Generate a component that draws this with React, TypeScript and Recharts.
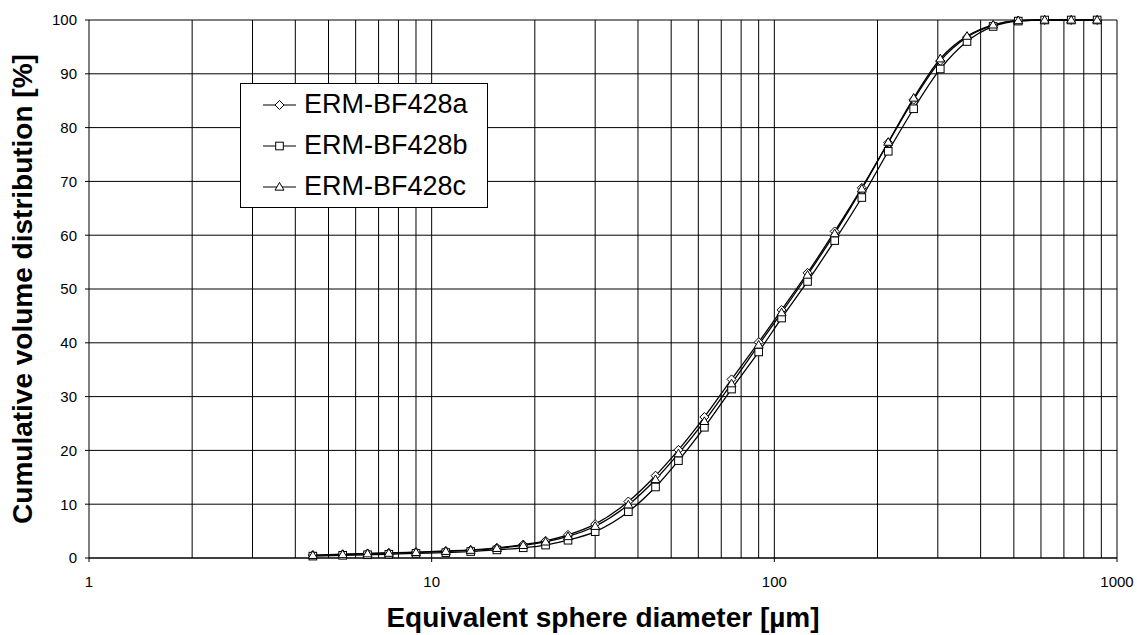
import React from "react";
import { LineChart, Line, XAxis, YAxis, CartesianGrid, ReferenceLine, Legend, Label } from "recharts";

const sizes = [4.5, 5.5, 6.5, 7.5, 9, 11, 13, 15.5, 18.5, 21.5, 25, 30, 37.5, 45, 52.5, 62.5, 75, 90, 105, 125, 150, 180, 215, 255, 305, 365, 435, 515, 615, 735, 875];
const seriesA = [0.55, 0.7, 0.85, 0.95, 1.1, 1.3, 1.5, 1.9, 2.5, 3.2, 4.3, 6.3, 10.5, 15.3, 20.1, 26.2, 33.2, 40.1, 46.1, 53.0, 60.7, 68.8, 77.2, 85.2, 92.4, 96.8, 99.0, 99.9, 100, 100, 100];
const seriesB = [0.35, 0.5, 0.6, 0.7, 0.85, 1.0, 1.2, 1.5, 1.9, 2.4, 3.3, 4.9, 8.6, 13.2, 18.1, 24.3, 31.4, 38.3, 44.6, 51.4, 59.0, 67.0, 75.6, 83.5, 90.9, 96.0, 98.8, 99.8, 100, 100, 100];
const seriesC = [0.5, 0.65, 0.8, 0.9, 1.05, 1.25, 1.45, 1.8, 2.35, 3.0, 4.0, 5.9, 9.9, 14.6, 19.4, 25.4, 32.4, 39.6, 45.6, 52.6, 60.3, 68.6, 77.3, 85.5, 92.8, 97.0, 99.1, 99.9, 100, 100, 100];
const seriesNames = ["ERM-BF428a", "ERM-BF428b", "ERM-BF428c"];
const xTicks = [1, 10, 100, 1000];
const yTicks = [0, 10, 20, 30, 40, 50, 60, 70, 80, 90, 100];
const xGrid = [2, 3, 4, 5, 6, 7, 8, 9, 10, 20, 30, 40, 50, 60, 70, 80, 90, 100, 200, 300, 400, 500, 600, 700, 800, 900, 1000];

const data = sizes.map((s, i) => ({ size: s, a: seriesA[i], b: seriesB[i], c: seriesC[i] }));

const FONT = "Arial, 'Liberation Sans', Helvetica, sans-serif";

const Marker = ({ kind, cx, cy }: { kind: string; cx: number; cy: number }) => {
  if (cx == null || cy == null) return null;
  if (kind === "diamond") {
    const r = 4.5;
    return <polygon points={`${cx},${cy - r} ${cx + r},${cy} ${cx},${cy + r} ${cx - r},${cy}`} fill="#fff" stroke="#000" strokeWidth={1} />;
  }
  if (kind === "square") {
    const r = 3.8;
    return <rect x={cx - r} y={cy - r} width={2 * r} height={2 * r} fill="#fff" stroke="#000" strokeWidth={1} />;
  }
  const r = 4.5;
  return <polygon points={`${cx},${cy - r} ${cx + r},${cy + r * 0.7} ${cx - r},${cy + r * 0.7}`} fill="#fff" stroke="#000" strokeWidth={1} />;
};

const makeDot = (kind: string) => (props: any) => (
  <Marker key={`${kind}-${props.index}`} kind={kind} cx={props.cx} cy={props.cy} />
);

const kinds = ["diamond", "square", "triangle"];

const renderLegend = () => (
  <div
    style={{
      border: "1px solid #000",
      background: "#fff",
      width: 248,
      padding: 0,
      fontFamily: FONT,
      fontSize: 27,
      boxSizing: "border-box",
    }}
  >
    {seriesNames.map((n, i) => (
      <div key={n} style={{ display: "flex", alignItems: "center", height: 41, paddingLeft: 21 }}>
        <svg width={36} height={14} style={{ marginRight: 6 }}>
          <line x1={1} y1={7} x2={34} y2={7} stroke="#000" strokeWidth={1.2} />
          <Marker kind={kinds[i]} cx={17.5} cy={7} />
        </svg>
        <span style={{ lineHeight: "41px" }}>{n}</span>
      </div>
    ))}
  </div>
);

export default function App() {
  return (
    <div style={{ position: "absolute", left: 0, top: 0, width: 1137, height: 635, background: "#fff" }}>
      <LineChart width={1137} height={635} data={data} margin={{ top: 20, right: 20, bottom: 0, left: 29 }}>
        <CartesianGrid vertical={false} stroke="#000" strokeWidth={1} />
        {xGrid.map((v) => (
          <ReferenceLine key={v} x={v} stroke="#000" strokeWidth={1} />
        ))}
        <XAxis
          dataKey="size"
          type="number"
          scale="log"
          domain={[1, 1000]}
          ticks={xTicks}
          allowDataOverflow
          height={77}
          tickSize={4}
          tickMargin={14}
          stroke="#000"
          tick={{ fill: "#000", fontSize: 15, fontFamily: FONT }}
          tickLine={{ stroke: "#000" }}
        >
          <Label
            value="Equivalent sphere diameter [µm]"
            position="insideBottom"
            offset={8}
            style={{ fontFamily: FONT, fontSize: 28, fontWeight: "bold", fill: "#000" }}
          />
        </XAxis>
        <YAxis
          type="number"
          domain={[0, 100]}
          ticks={yTicks}
          width={60}
          tickSize={4}
          tickMargin={8}
          stroke="#000"
          tick={{ fill: "#000", fontSize: 15, fontFamily: FONT }}
          tickLine={{ stroke: "#000" }}
        >
          <Label
            value="Cumulative volume distribution [%]"
            angle={-90}
            position="insideLeft"
            offset={-7}
            style={{ fontFamily: FONT, fontSize: 28, fontWeight: "bold", fill: "#000", textAnchor: "middle" }}
          />
        </YAxis>
        <Legend
          layout="vertical"
          verticalAlign="middle"
          align="center"
          content={renderLegend}
          wrapperStyle={{ left: 240, top: 83, width: 248 }}
        />
        <Line type="monotone" dataKey="a" name={seriesNames[0]} stroke="#000" strokeWidth={1.3} dot={makeDot("diamond")} activeDot={false} isAnimationActive={false} />
        <Line type="monotone" dataKey="b" name={seriesNames[1]} stroke="#000" strokeWidth={1.3} dot={makeDot("square")} activeDot={false} isAnimationActive={false} />
        <Line type="monotone" dataKey="c" name={seriesNames[2]} stroke="#000" strokeWidth={1.3} dot={makeDot("triangle")} activeDot={false} isAnimationActive={false} />
      </LineChart>
    </div>
  );
}
